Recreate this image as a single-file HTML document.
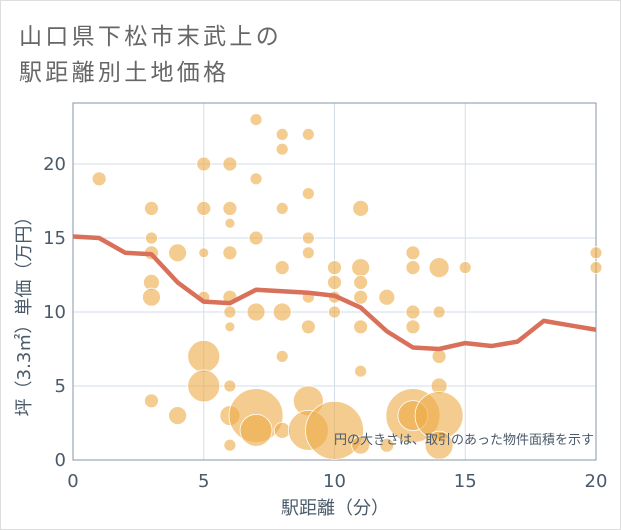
<!DOCTYPE html>
<html><head><meta charset="utf-8"><style>
body{margin:0;background:#fff}
#wrap{position:relative;width:619px;height:528px;border:1px solid #ddd;background:#fff;font-family:"Liberation Sans","Noto Sans CJK JP",sans-serif}
.t{position:absolute;left:18px;font-size:23px;color:#666;letter-spacing:3.3px;white-space:nowrap}
</style></head><body>
<div id="wrap">
<div class="t" style="top:16px">山口県下松市末武上の</div>
<div class="t" style="top:52px">駅距離別土地価格</div>
<svg id="svg" width="621" height="530" style="position:absolute;left:-1px;top:-1px"></svg>
</div>
<script>
const bubbleX=[1,3,3,3,3,3,3,4,4,5,5,5,5,5,5,6,6,6,6,6,6,6,6,6,6,7,7,7,7,7,7,8,8,8,8,8,8,8,9,9,9,9,9,9,9,9,10,10,10,10,10,11,11,11,11,11,11,11,12,12,13,13,13,13,13,13,14,14,14,14,14,14,15,20,20];
const bubbleY=[19,17,15,14,12,11,4,14,3,20,17,14,11,7,5,20,17,16,14,11,10,9,5,3,1,23,19,15,10,3,2,22,21,17,13,10,7,2,22,18,15,14,11,9,4,2,2,13,12,11,10,17,13,12,11,9,6,1,11,1,14,13,10,9,3,3,13,10,7,5,3,1,13,14,13];
const bubbleSize=[7,7,6,7,8,9,7,9,9,7,7,5,6,16,16,7,7,5,7,7,6,5,6,10,6,6,6,7,9,27,16,6,6,6,7,9,6,8,6,6,6,6,6,7,15,20,29,7,7,6,6,8,9,7,7,7,6,9,8,7,7,7,7,7,27,15,10,6,7,8,24,14,6,6,6];
const lineX=[0,1,2,3,4,5,6,7,8,9,10,11,12,13,14,15,16,17,18,19,20];
const lineY=[15.1,15.0,14.0,13.9,12.0,10.7,10.6,11.5,11.4,11.3,11.1,10.3,8.7,7.6,7.5,7.9,7.7,8.0,9.4,9.1,8.8];
const xTicks=[0,5,10,15,20];
const yTicks=[0,5,10,15,20];
const L=73,R=596,T=103,B=460;
const sx=v=>L+(R-L)*v/20;
const sy=v=>B-(B-164)*v/20;
const svg=document.getElementById('svg');
const NS='http://www.w3.org/2000/svg';
function mk(t,a){const e=document.createElementNS(NS,t);for(const k in a)e.setAttribute(k,a[k]);svg.appendChild(e);return e;}
xTicks.forEach(v=>{
const g=mk('line',{x1:sx(v),x2:sx(v),y1:T,y2:B,stroke:'#d3dde8','stroke-width':1});


const t=mk('text',{x:sx(v),y:487,'text-anchor':'middle','font-size':18,fill:'#4a5a6a','font-family':'DejaVu Sans, sans-serif'});
t.textContent=v;


});
yTicks.forEach(v=>{
const g=mk('line',{x1:L,x2:R,y1:sy(v),y2:sy(v),stroke:'#d3dde8','stroke-width':1});


const t=mk('text',{x:66,y:sy(v)+6,'text-anchor':'end','font-size':18,fill:'#4a5a6a','font-family':'DejaVu Sans, sans-serif'});
t.textContent=v;


});
const fr=mk('rect',{x:L,y:T,width:R-L,height:B-T,fill:'none',stroke:'#8a96a3','stroke-width':1});


bubbleX.forEach((x,i)=>{
const c=mk('circle',{cx:sx(x),cy:sy(bubbleY[i]),r:bubbleSize[i],fill:'rgba(236,170,70,0.6)',stroke:'#fff','stroke-width':0.8});


});
const p=mk('polyline',{points:lineX.map((x,i)=>sx(x)+','+sy(lineY[i])).join(' '),fill:'none',stroke:'#d8705a','stroke-width':4.5,'stroke-linejoin':'round'});


const n=mk('text',{x:594,y:444,'text-anchor':'end','font-size':13,fill:'#4a5a6a','font-family':'Liberation Sans, Noto Sans CJK JP, sans-serif'});
n.textContent='円の大きさは、取引のあった物件面積を示す';


const xt=mk('text',{x:335,y:514,'text-anchor':'middle','font-size':18,fill:'#4a5a6a','font-family':'DejaVu Sans, Noto Sans CJK JP, sans-serif'});
xt.textContent='駅距離（分）';


const yt=mk('text',{x:0,y:0,'text-anchor':'middle','font-size':18,fill:'#4a5a6a','font-family':'DejaVu Sans, Noto Sans CJK JP, sans-serif',transform:'translate(30,312) rotate(-90)'});
yt.textContent='坪（3.3㎡）単価（万円）';


</script>
</body></html>
